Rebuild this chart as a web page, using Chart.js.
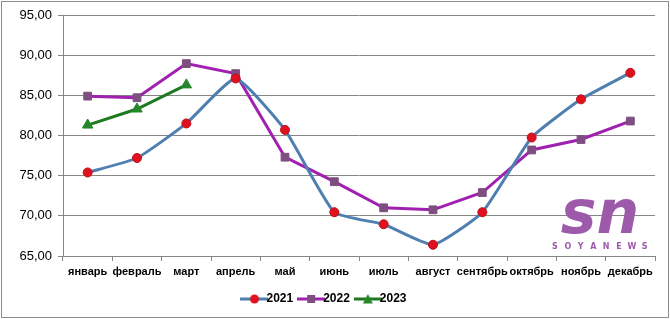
<!DOCTYPE html>
<html>
<head>
<meta charset="utf-8">
<script src="https://cdn.jsdelivr.net/npm/chart.js@4"></script>
<style>
    html, body { margin: 0; padding: 0; background: #fff; }
    canvas { display: block; }
</style>
</head>
<body>
<canvas id="priceChart" width="670" height="319"></canvas>
<script>
const months = ['январь', 'февраль', 'март', 'апрель', 'май', 'июнь', 'июль', 'август', 'сентябрь', 'октябрь', 'ноябрь', 'декабрь'];
const prices2021 = [75.4, 77.2, 81.5, 87.1, 80.7, 70.45, 68.95, 66.4, 70.45, 79.75, 84.5, 87.8];
const prices2022 = [84.9, 84.7, 88.95, 87.7, 77.3, 74.25, 71.0, 70.75, 72.9, 78.2, 79.5, 81.8];
const prices2023 = [81.3, 83.3, 86.3];
const seriesNames = ['2021', '2022', '2023'];

const gridColor = '#868686';
const textColor = '#000000';

// small line + marker picture for the legend, like Excel does
function legendIcon(lineColor, markerColor, shape) {
    const c = document.createElement('canvas');
    c.width = 28;
    c.height = 12;
    const ctx = c.getContext('2d');
    ctx.strokeStyle = lineColor;
    ctx.lineWidth = 3;
    ctx.beginPath();
    ctx.moveTo(0, 6);
    ctx.lineTo(28, 6);
    ctx.stroke();
    ctx.fillStyle = markerColor;
    ctx.beginPath();
    if (shape === 'circle') {
        ctx.arc(14, 6, 4.5, 0, Math.PI * 2);
    } else if (shape === 'rect') {
        ctx.rect(10, 2, 8, 8);
    } else {
        ctx.moveTo(14, 1);
        ctx.lineTo(19, 10.5);
        ctx.lineTo(9, 10.5);
        ctx.closePath();
    }
    ctx.fill();
    return c;
}

const frameAndLogo = {
    id: 'frameAndLogo',
    beforeDraw(chart) {
        const ctx = chart.ctx;
        ctx.save();
        ctx.fillStyle = '#ffffff';
        ctx.fillRect(0, 0, chart.width, chart.height);
        ctx.restore();
    },
    beforeDatasetsDraw(chart) {
        const ctx = chart.ctx;
        ctx.save();
        // watermark
        ctx.fillStyle = '#9d5aab';
        ctx.font = 'italic bold 60px "DejaVu Sans"';
        ctx.textAlign = 'center';
        ctx.textBaseline = 'alphabetic';
        ctx.fillText('sn', 600, 233);
        ctx.font = 'bold 8px "DejaVu Sans"';
        const letters = 'SOYANEWS'.split('');
        letters.forEach(function (ch, i) {
            ctx.fillText(ch, 555 + i * 12.8, 249);
        });
        ctx.restore();
    },
    afterDraw(chart) {
        const ctx = chart.ctx;
        ctx.save();
        ctx.strokeStyle = '#8c8c8c';
        ctx.lineWidth = 1;
        ctx.strokeRect(1.5, 1.5, chart.width - 3, chart.height - 3);
        ctx.restore();
    }
};

new Chart(document.getElementById('priceChart'), {
    type: 'line',
    data: {
        labels: months,
        datasets: [{
            label: seriesNames[0],
            data: prices2021,
            borderColor: '#4f7fb0',
            borderWidth: 3,
            tension: 0.15,
            pointStyle: 'circle',
            pointRadius: 4.5,
            pointBackgroundColor: '#e0101e',
            pointBorderColor: '#c0101a',
            pointBorderWidth: 1,
            legendIcon: legendIcon('#4f7fb0', '#e0101e', 'circle')
        }, {
            label: seriesNames[1],
            data: prices2022,
            borderColor: '#a020b0',
            borderWidth: 3,
            tension: 0,
            pointStyle: 'rect',
            pointRadius: 5.5,
            pointBackgroundColor: '#7e4e80',
            pointBorderColor: '#7e4e80',
            pointBorderWidth: 1,
            legendIcon: legendIcon('#a020b0', '#7e4e80', 'rect')
        }, {
            label: seriesNames[2],
            data: prices2023,
            borderColor: '#1f7a1f',
            borderWidth: 3,
            tension: 0,
            pointStyle: 'triangle',
            pointRadius: 6,
            pointBackgroundColor: '#24882a',
            pointBorderColor: '#24882a',
            pointBorderWidth: 1,
            legendIcon: legendIcon('#1f7a1f', '#24882a', 'triangle')
        }]
    },
    options: {
        responsive: false,
        animation: false,
        layout: {
            padding: { left: 0, top: 15, right: 15, bottom: 4 }
        },
        scales: {
            y: {
                min: 65,
                max: 95,
                ticks: {
                    stepSize: 5,
                    color: textColor,
                    font: { family: 'Liberation Sans', size: 13 },
                    padding: 6,
                    callback: function (value) {
                        return value.toFixed(2).replace('.', ',');
                    }
                },
                grid: {
                    color: gridColor,
                    tickLength: 5,
                    tickColor: gridColor
                },
                border: { color: gridColor },
                afterFit: function (scale) { scale.width = 63; }
            },
            x: {
                offset: true,
                ticks: {
                    color: textColor,
                    font: { family: 'Liberation Sans', size: 11, weight: 'bold' },
                    padding: 4,
                    maxRotation: 0,
                    autoSkip: false
                },
                grid: {
                    offset: true,
                    drawOnChartArea: false,
                    tickLength: 5,
                    color: gridColor
                },
                border: { color: gridColor },
                afterFit: function (scale) { scale.height = 25; }
            }
        },
        plugins: {
            legend: {
                position: 'bottom',
                labels: {
                    color: textColor,
                    font: { family: 'Liberation Sans', size: 12, weight: 'bold' },
                    usePointStyle: true,
                    padding: 12,
                    generateLabels: function (chart) {
                        return chart.data.datasets.map(function (ds, i) {
                            return {
                                text: ds.label,
                                pointStyle: ds.legendIcon,
                                fontColor: textColor,
                                hidden: false,
                                datasetIndex: i,
                                lineWidth: 0,
                                strokeStyle: 'transparent',
                                fillStyle: 'transparent'
                            };
                        });
                    }
                }
            },
            tooltip: { enabled: false }
        }
    },
    plugins: [frameAndLogo]
});
</script>
</body>
</html>
